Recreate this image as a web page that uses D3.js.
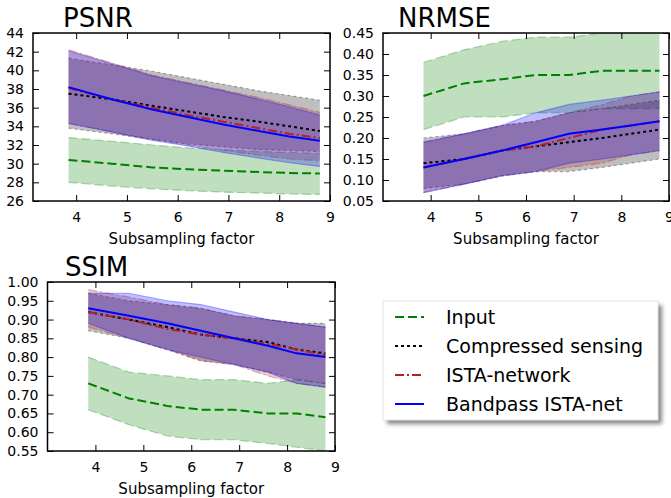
<!DOCTYPE html>
<html>
<head>
<meta charset="utf-8">
<script src="https://cdn.jsdelivr.net/npm/d3@7"></script>
<style>
  body { margin: 0; background: #fff; }
  svg text { font-family: "DejaVu Sans", sans-serif; fill: #000; }
</style>
</head>
<body>
<svg id="chart" width="671" height="498"></svg>
<script>
// subsampling factors (x positions of every series)
const factors = [3.85, 4.7, 5.5, 6.2, 6.9, 7.6, 8.2, 8.8];
const methods = ['Input', 'Compressed sensing', 'ISTA-network', 'Bandpass ISTA-net'];

// PSNR: mean / upper / lower per method
const psnrMean = [
  [30.4, 30.0, 29.6, 29.4, 29.25, 29.1, 29.0, 28.95],
  [37.5, 36.9, 36.2, 35.6, 35.0, 34.5, 34.0, 33.5],
  [38.1, 36.9, 36.0, 35.2, 34.5, 33.8, 33.2, 32.75],
  [38.2, 36.9, 35.8, 35.0, 34.2, 33.5, 32.9, 32.45]
];
const psnrHigh = [
  [32.8, 32.4, 32.0, 31.7, 31.5, 31.3, 31.2, 31.1],
  [41.3, 40.6, 39.9, 39.2, 38.5, 37.8, 37.3, 36.8],
  [42.2, 40.8, 39.5, 38.7, 37.9, 37.1, 36.3, 35.5],
  [42.1, 40.7, 39.4, 38.6, 37.8, 36.9, 36.1, 35.2]
];
const psnrLow = [
  [28.0, 27.6, 27.3, 27.1, 26.95, 26.85, 26.75, 26.7],
  [33.8, 33.2, 32.6, 32.1, 31.8, 31.5, 31.4, 31.3],
  [34.3, 33.4, 32.6, 32.0, 31.4, 30.9, 30.5, 30.3],
  [34.3, 33.4, 32.5, 31.9, 31.2, 30.6, 30.1, 29.7]
];

// NRMSE
const nrmseMean = [
  [0.30, 0.33, 0.34, 0.35, 0.35, 0.36, 0.36, 0.36],
  [0.14, 0.15, 0.17, 0.18, 0.19, 0.20, 0.21, 0.22],
  [0.13, 0.15, 0.17, 0.18, 0.20, 0.22, 0.23, 0.24],
  [0.13, 0.15, 0.17, 0.19, 0.21, 0.22, 0.23, 0.24]
];
const nrmseHigh = [
  [0.38, 0.41, 0.43, 0.44, 0.44, 0.45, 0.455, 0.46],
  [0.20, 0.21, 0.23, 0.24, 0.26, 0.27, 0.28, 0.29],
  [0.19, 0.21, 0.23, 0.24, 0.26, 0.28, 0.30, 0.31],
  [0.19, 0.21, 0.23, 0.26, 0.28, 0.29, 0.30, 0.31]
];
const nrmseLow = [
  [0.22, 0.25, 0.25, 0.26, 0.26, 0.27, 0.27, 0.27],
  [0.08, 0.09, 0.11, 0.12, 0.12, 0.13, 0.14, 0.15],
  [0.07, 0.09, 0.11, 0.12, 0.13, 0.14, 0.16, 0.17],
  [0.07, 0.09, 0.11, 0.12, 0.14, 0.15, 0.16, 0.17]
];

// SSIM
const ssimMean = [
  [0.73, 0.69, 0.67, 0.66, 0.66, 0.65, 0.65, 0.64],
  [0.92, 0.90, 0.88, 0.86, 0.85, 0.84, 0.82, 0.81],
  [0.92, 0.90, 0.875, 0.86, 0.85, 0.835, 0.82, 0.805],
  [0.93, 0.91, 0.89, 0.87, 0.85, 0.83, 0.81, 0.80]
];
const ssimHigh = [
  [0.80, 0.76, 0.75, 0.74, 0.74, 0.73, 0.74, 0.73],
  [0.97, 0.95, 0.94, 0.93, 0.91, 0.90, 0.89, 0.89],
  [0.98, 0.96, 0.94, 0.93, 0.91, 0.90, 0.89, 0.88],
  [0.97, 0.97, 0.95, 0.94, 0.92, 0.90, 0.89, 0.88]
];
const ssimLow = [
  [0.66, 0.62, 0.59, 0.58, 0.58, 0.57, 0.56, 0.55],
  [0.87, 0.85, 0.82, 0.79, 0.78, 0.76, 0.74, 0.73],
  [0.88, 0.85, 0.82, 0.79, 0.78, 0.75, 0.73, 0.72],
  [0.89, 0.85, 0.82, 0.80, 0.78, 0.76, 0.73, 0.72]
];

const xTicks = [4, 5, 6, 7, 8, 9];
const psnrTicks = d3.range(26, 44.1, 2);
const nrmseTicks = d3.range(0.05, 0.451, 0.05);
const ssimTicks = d3.range(0.55, 1.001, 0.05);

const colors = ['#008000', '#000000', '#b22222', '#0000ff'];
const dashes = ['9,4', '3,3', '9,3,2,3', null];

const svg = d3.select('#chart');

const panels = [
  { title: 'PSNR', mean: psnrMean, high: psnrHigh, low: psnrLow,
    x0: 33, x1: 330, y0: 33, y1: 201, xDom: [3.15, 9], yDom: [26, 44],
    yTicks: psnrTicks, fmt: d3.format('d'), titleX: 63, titleY: 27 },
  { title: 'NRMSE', mean: nrmseMean, high: nrmseHigh, low: nrmseLow,
    x0: 383, x1: 669, y0: 33, y1: 201, xDom: [3, 9], yDom: [0.05, 0.45],
    yTicks: nrmseTicks, fmt: d3.format('.2f'), titleX: 398, titleY: 27 },
  { title: 'SSIM', mean: ssimMean, high: ssimHigh, low: ssimLow,
    x0: 47.5, x1: 335, y0: 282, y1: 451, xDom: [3, 9], yDom: [0.55, 1.0],
    yTicks: ssimTicks, fmt: d3.format('.2f'), titleX: 65, titleY: 276 }
];

panels.forEach((p, pi) => {
  const x = d3.scaleLinear().domain(p.xDom).range([p.x0, p.x1]);
  const y = d3.scaleLinear().domain(p.yDom).range([p.y1, p.y0]);
  const g = svg.append('g');

  const clipId = `clip${pi}`;
  g.append('clipPath').attr('id', clipId)
    .append('rect')
    .attr('x', p.x0).attr('y', p.y0)
    .attr('width', p.x1 - p.x0).attr('height', p.y1 - p.y0);

  const plot = g.append('g').attr('clip-path', `url(#${clipId})`);

  const area = d3.area()
    .x((d, i) => x(factors[i]))
    .y0(d => y(d[0]))
    .y1(d => y(d[1]));
  const line = d3.line()
    .x((d, i) => x(factors[i]))
    .y(d => y(d));

  // bands first
  methods.forEach((m, k) => {
    const band = p.low[k].map((v, i) => [v, p.high[k][i]]);
    plot.append('path')
      .datum(band)
      .attr('d', area)
      .attr('fill', colors[k])
      .attr('fill-opacity', 0.25)
      .attr('stroke', 'none');
    [p.low[k], p.high[k]].forEach(edge => {
      plot.append('path')
        .datum(edge)
        .attr('d', line)
        .attr('fill', 'none')
        .attr('stroke', colors[k])
        .attr('stroke-opacity', 0.3)
        .attr('stroke-width', 1.2)
        .attr('stroke-dasharray', dashes[k]);
    });
  });

  // mean lines on top
  methods.forEach((m, k) => {
    plot.append('path')
      .datum(p.mean[k])
      .attr('d', line)
      .attr('fill', 'none')
      .attr('stroke', colors[k])
      .attr('stroke-width', 2)
      .attr('stroke-dasharray', dashes[k]);
  });

  // axes, ticks pointing inwards on every side
  const tl = 6;
  g.append('g').attr('transform', `translate(0,${p.y1})`)
    .call(d3.axisBottom(x).tickValues(xTicks).tickSizeInner(-tl).tickSizeOuter(0).tickPadding(11).tickFormat(d3.format('d')));
  g.append('g').attr('transform', `translate(0,${p.y0})`)
    .call(d3.axisTop(x).tickValues(xTicks).tickSizeInner(-tl).tickSizeOuter(0).tickFormat(''));
  g.append('g').attr('transform', `translate(${p.x0},0)`)
    .call(d3.axisLeft(y).tickValues(p.yTicks).tickSizeInner(-tl).tickSizeOuter(0).tickPadding(9).tickFormat(p.fmt));
  g.append('g').attr('transform', `translate(${p.x1},0)`)
    .call(d3.axisRight(y).tickValues(p.yTicks).tickSizeInner(-tl).tickSizeOuter(0).tickFormat(''));

  g.selectAll('.domain').remove();
  g.selectAll('.tick line').attr('stroke', '#000').attr('stroke-width', 1);
  g.selectAll('.tick text').style('font-size', '14px').attr('fill', '#000');

  g.append('rect')
    .attr('x', p.x0).attr('y', p.y0)
    .attr('width', p.x1 - p.x0).attr('height', p.y1 - p.y0)
    .attr('fill', 'none').attr('stroke', '#000').attr('stroke-width', 1.5);

  g.append('text')
    .attr('x', p.titleX).attr('y', p.titleY)
    .style('font-size', '26px')
    .text(p.title);

  g.append('text')
    .attr('x', (p.x0 + p.x1) / 2).attr('y', p.y1 + 43)
    .attr('text-anchor', 'middle')
    .style('font-size', '15px')
    .text('Subsampling factor');
});

// legend
const defs = svg.append('defs');
defs.append('filter').attr('id', 'blur')
  .append('feGaussianBlur').attr('stdDeviation', 2);

const lg = svg.append('g');
lg.append('rect')
  .attr('x', 387).attr('y', 305).attr('width', 275).attr('height', 119)
  .attr('fill', '#888').attr('filter', 'url(#blur)');
lg.append('rect')
  .attr('x', 383).attr('y', 301).attr('width', 275).attr('height', 119)
  .attr('fill', '#fff').attr('stroke', '#e4e4e4').attr('stroke-width', 1);

methods.forEach((m, k) => {
  const yy = 317 + k * 29;
  lg.append('line')
    .attr('x1', 395).attr('x2', 424).attr('y1', yy).attr('y2', yy)
    .attr('stroke', colors[k]).attr('stroke-width', 2)
    .attr('stroke-dasharray', dashes[k]);
  lg.append('text')
    .attr('x', 446).attr('y', yy + 7)
    .style('font-size', '19px')
    .text(m);
});
</script>
</body>
</html>
